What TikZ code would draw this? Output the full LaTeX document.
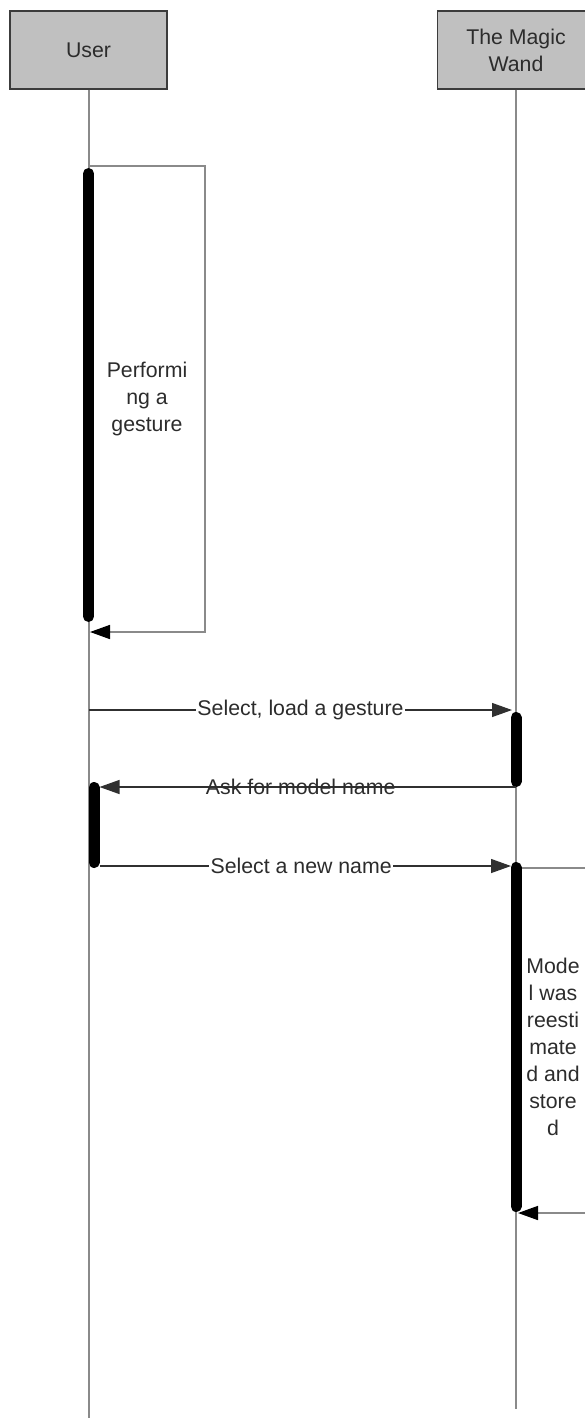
\documentclass[tikz,border=0pt]{standalone}
\usepackage{fontspec}
\setmainfont{Liberation Sans}
\usetikzlibrary{arrows.meta}
\definecolor{lifegray}{HTML}{8A8A8A}
\definecolor{boxgray}{HTML}{C0C0C0}
\definecolor{boxedge}{HTML}{3C3C3C}
\definecolor{txt}{HTML}{2C2C2C}
\definecolor{msgline}{HTML}{303030}
\begin{document}
\begin{tikzpicture}[x=1pt,y=-1pt,
  actor/.style={draw=boxedge, fill=boxgray, line width=1.3pt,
    minimum width=157pt, minimum height=78pt, inner sep=0pt,
    font=\fontsize{21.3}{27}\selectfont, text=txt, align=center},
  lifeline/.style={draw=lifegray, line width=1.5pt},
  actbar/.style={draw=black, line width=11pt, line cap=round},
  msg/.style={draw=msgline, line width=1.3pt,
    -{Triangle[length=20pt,width=14pt]}},
  selfmsg/.style={draw=lifegray, line width=1.6pt,
    -{Triangle[length=20pt,width=14pt,color=black]}},
  lbl/.style={font=\fontsize{21.3}{27}\selectfont, text=txt,
    inner sep=1.5pt, align=center},
]
\useasboundingbox (0,0) rectangle (584,1418);

% actors
\node[actor] (user) at (88.5,50) {User};
\node[actor] (wand) at (516,50) {The Magic\\Wand};

% lifelines
\coordinate (userend) at (89,1418);
\coordinate (wandend) at (516,1409);
\draw[lifeline] (user.south -| userend) -- (userend);
\draw[lifeline] (wand.south) -- (wandend);

% activation bars
\coordinate (ub1t) at (88.5,173.5);  \coordinate (ub1b) at (88.5,616.5);
\coordinate (wb1t) at (516,717.5);   \coordinate (wb1b) at (516,781.5);
\coordinate (ub2t) at (94,787.5);    \coordinate (ub2b) at (94,862.5);
\coordinate (wb2t) at (516,867.5);   \coordinate (wb2b) at (516,1206.5);
\draw[actbar] (ub1t) -- (ub1b);
\draw[actbar] (wb1t) -- (wb1b);
\draw[actbar] (ub2t) -- (ub2b);
\draw[actbar] (wb2t) -- (wb2b);

% self message on the user
\coordinate (s1a) at (89,166);
\coordinate (s1r) at (205,400);
\coordinate (s1b) at (90,632);
\draw[selfmsg] (s1a) -| (s1r) |- (s1b);
\node[lbl] (s1lbl) at (147,399) {Performi\\ng a\\gesture};

% messages between the lifelines
\coordinate (m1s) at (89,710);  \coordinate (m1e) at (512,710);
\draw[msg] (m1s) -- node[lbl, fill=white] (m1lbl) {Select, load a gesture} (m1e);

\coordinate (m2s) at (516,787); \coordinate (m2e) at (99.5,787);
\draw[msg] (m2s) -- node[lbl, pos=0.517] (m2lbl) {Ask for model name} (m2e);

\coordinate (m3s) at (99.5,866); \coordinate (m3e) at (511,866);
\draw[msg] (m3s) -- node[lbl, fill=white, pos=0.49] (m3lbl) {Select a new name} (m3e);

% self message on the wand
\coordinate (s2a) at (522,868);
\coordinate (s2r) at (640,1040);
\coordinate (s2b) at (518,1213);
\draw[selfmsg] (s2a) -| (s2r) |- (s2b);
\node[lbl] (s2lbl) at (553,1047) {Mode\\l was\\reesti\\mate\\d and\\store\\d};
\end{tikzpicture}
\end{document}
